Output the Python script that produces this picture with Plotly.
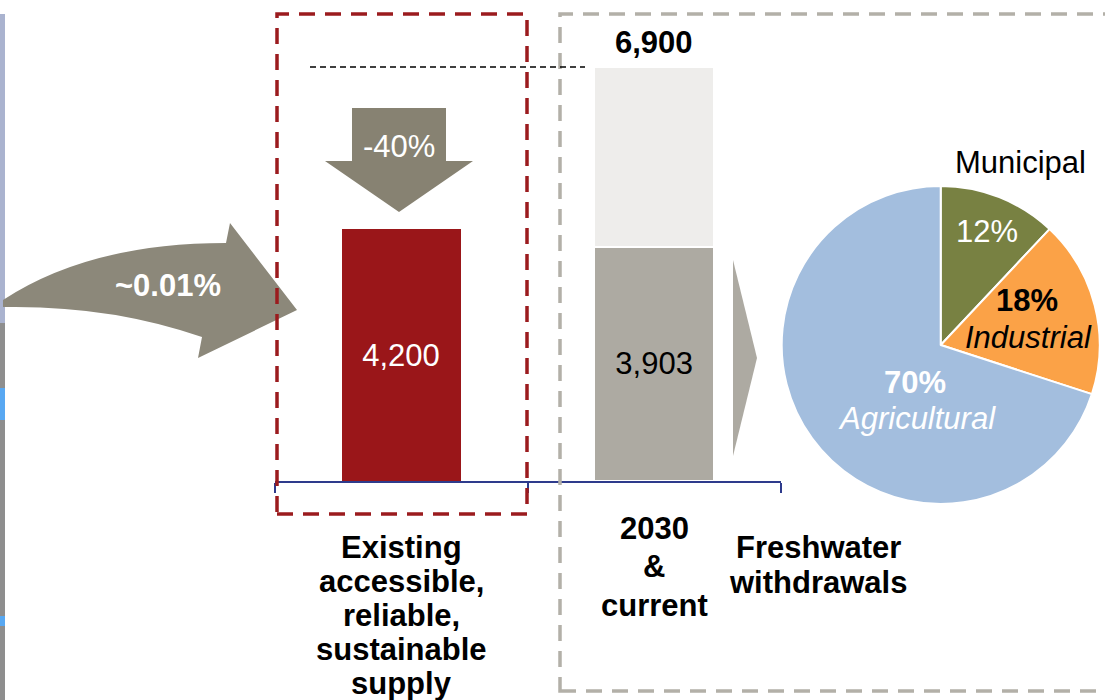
import plotly.graph_objects as go

W, H = 1105, 700

# ---------------- data ----------------
categories = ["Existing accessible, reliable, sustainable supply", "2030 & current"]
category_lines = [
    ["Existing", "accessible,", "reliable,", "sustainable", "supply"],
    ["2030", "&", "current"],
]
supply_values = [4200, None]
current_values = [None, 3903]
gap_values = [None, 2997]          # 6,900 - 3,903
total_2030 = 6900
change_label = "-40%"
flow_label = "~0.01%"
side_label_lines = ["Freshwater", "withdrawals"]

pie_labels = ["Municipal", "Industrial", "Agricultural"]
pie_values = [12, 18, 70]
pie_colors = ["#788142", "#FBA247", "#A3BEDE"]

FONT = "Arial, Liberation Sans, sans-serif"


def px(x, y):
    return x / W, 1 - y / H


def path(points):
    s = ""
    for i, (x, y) in enumerate(points):
        X, Y = px(x, y)
        s += ("M" if i == 0 else " L") + f"{X:.5f},{Y:.5f}"
    return s + " Z"


def fmt(v):
    return "" if v is None else f"{v:,}"


fig = go.Figure()

# ---------------- bars ----------------
fig.add_trace(go.Bar(
    x=categories, y=supply_values, width=0.47,
    marker=dict(color="#9A1619", line=dict(width=0)),
    text=[fmt(v) for v in supply_values], textposition="inside",
    insidetextanchor="middle", textangle=0,
    textfont=dict(family=FONT, size=31, color="white"),
    hoverinfo="skip", cliponaxis=False,
))
fig.add_trace(go.Bar(
    x=categories, y=current_values, width=0.47,
    marker=dict(color="#ADAAA2", line=dict(width=1.5, color="white")),
    text=[fmt(v) for v in current_values], textposition="inside",
    insidetextanchor="middle", textangle=0,
    textfont=dict(family=FONT, size=31, color="black"),
    hoverinfo="skip", cliponaxis=False,
))
fig.add_trace(go.Bar(
    x=categories, y=gap_values, width=0.47,
    marker=dict(color="#EEEDEB", line=dict(width=1.5, color="white")),
    hoverinfo="skip", cliponaxis=False,
))

# ---------------- pie ----------------
cx, cy, r = 940.7, 345, 159
fig.add_trace(go.Pie(
    labels=pie_labels, values=pie_values, sort=False,
    direction="clockwise", rotation=0,
    marker=dict(colors=pie_colors, line=dict(color="white", width=2)),
    textinfo="none", hoverinfo="skip", showlegend=False,
    domain=dict(x=[(cx - r) / W, (cx + r) / W], y=[1 - (cy + r) / H, 1 - (cy - r) / H]),
))

shapes = []
# left image strip
for (y0, y1, col) in [(14, 323, "#AAB3CF"), (323, 700, "#8E8E8E"),
                      (388, 420, "#58A8F2"), (616, 626, "#58A8F2")]:
    x0p, y0p = px(0, y0)
    x1p, y1p = px(5, y1)
    shapes.append(dict(type="rect", xref="paper", yref="paper", x0=x0p, x1=x1p,
                       y0=y1p, y1=y0p, fillcolor=col, line=dict(width=0), layer="below"))


def P(x, y):
    X, Y = px(x, y)
    return f"{X:.5f},{Y:.5f}"


# curved arrow (~0.01%)
arrow_path = (f"M{P(3,300)} Q{P(90,243)} {P(226,243)} L{P(230,223)} L{P(297,310)} "
              f"L{P(198,358)} L{P(202,337)} Q{P(110,305)} {P(3,307)} Z")
shapes.append(dict(type="path", xref="paper", yref="paper", path=arrow_path,
                   fillcolor="#8C887A", line=dict(width=0)))

# down arrow (-40%)
shapes.append(dict(type="path", xref="paper", yref="paper",
                   path=path([(352, 108), (446, 108), (446, 161), (473, 161),
                              (399, 212), (325, 161), (352, 161)]),
                   fillcolor="#878272", line=dict(width=0)))

# right triangle
shapes.append(dict(type="path", xref="paper", yref="paper",
                   path=path([(733, 260), (757, 358), (733, 456)]),
                   fillcolor="#ADAAA2", line=dict(width=0)))

# dashed boxes
x0p, y0p = px(277, 14)
x1p, y1p = px(527, 514)
shapes.append(dict(type="rect", xref="paper", yref="paper", x0=x0p, x1=x1p, y0=y1p, y1=y0p,
                   line=dict(color="#9B1B1E", width=3.5, dash="16px,10px")))
x0p, y0p = px(560, 14)
x1p, y1p = px(1125, 691)
shapes.append(dict(type="rect", xref="paper", yref="paper", x0=x0p, x1=x1p, y0=y1p, y1=y0p,
                   line=dict(color="#B3B0A8", width=3.5, dash="16px,10px")))

# dashed reference line at 2030 demand level
shapes.append(dict(type="line", xref="paper", yref="y", x0=310 / W, x1=585 / W,
                   y0=total_2030, y1=total_2030,
                   line=dict(color="black", width=1.5, dash="6px,4px")))

annotations = []


def ann(text, x, y, size=31, color="black", **kw):
    X, Y = px(x, y)
    annotations.append(dict(text=text, x=X, y=Y, xref="paper", yref="paper",
                            showarrow=False, xanchor="center", yanchor="middle",
                            font=dict(family=FONT, size=size, color=color), **kw))


ann(f"<b>{flow_label}</b>", 168, 285, color="white")
ann(change_label, 399, 146, color="white")

# total label above stacked bar
annotations.append(dict(text=f"<b>{total_2030:,}</b>", x=categories[1], y=total_2030,
                        xref="x", yref="y", showarrow=False, yshift=25,
                        xanchor="center", yanchor="middle",
                        font=dict(family=FONT, size=31, color="black")))

# category labels (line by line)
label_pos = [(401, 547, 34), (654, 528, 38.5)]
for lines, (x, y, step) in zip(category_lines, label_pos):
    for i, line in enumerate(lines):
        ann(f"<b>{line}</b>", x, y + i * step)
for i, line in enumerate(side_label_lines):
    ann(f"<b>{line}</b>", 818, 547 + i * 35)

# pie labels
ann(pie_labels[0], 1020, 162)
ann(f"{pie_values[0]}%", 987, 232, color="white")
ann(f"<b>{pie_values[1]}%</b>", 1027, 300)
ann(f"<i>{pie_labels[1]}</i>", 1028, 337)
ann(f"<b>{pie_values[2]}%</b>", 915, 382, color="white")
ann(f"<i>{pie_labels[2]}</i>", 917, 418, color="white")

base_px = 481
scale = 0.06  # px per unit
fig.update_layout(
    width=W, height=H, margin=dict(l=0, r=0, t=0, b=0),
    paper_bgcolor="white", plot_bgcolor="rgba(0,0,0,0)",
    barmode="stack", showlegend=False,
    font=dict(family=FONT),
    xaxis=dict(type="category", domain=[274.5 / W, 780.7 / W], range=[-0.5, 1.5],
               showline=True, linecolor="#2E3B8C", linewidth=2,
               ticks="outside", tickson="boundaries", ticklen=10, tickwidth=2,
               tickcolor="#2E3B8C", showticklabels=False, showgrid=False,
               zeroline=False, fixedrange=True),
    yaxis=dict(domain=[1 - base_px / H, 1], range=[0, base_px / scale], visible=False,
               fixedrange=True),
    shapes=shapes, annotations=annotations,
)

fig.write_html("out.html", config={"displayModeBar": False},
               post_script="document.body.style.margin='0';document.body.style.overflow='hidden';")
